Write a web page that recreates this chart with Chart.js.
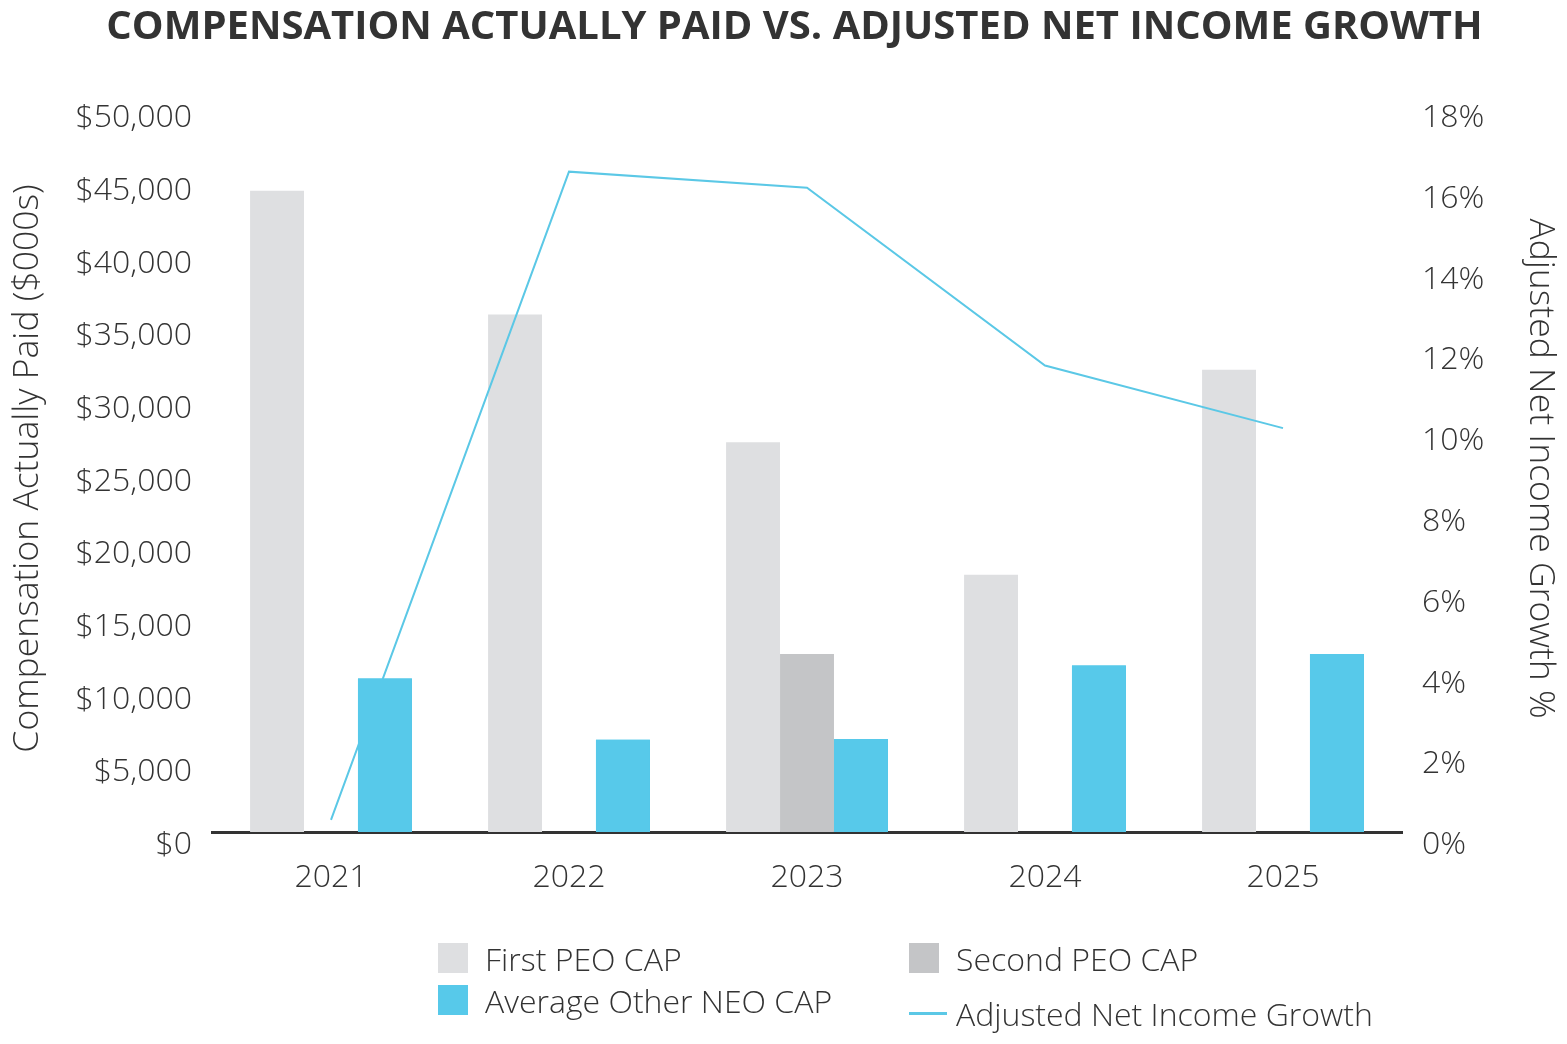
<!DOCTYPE html>
<html>
<head>
<meta charset="utf-8">
<script src="https://cdn.jsdelivr.net/npm/chart.js@4.4.1/dist/chart.umd.min.js"></script>
<style>
  html, body { margin: 0; padding: 0; background: #ffffff; }
  #wrap { position: relative; width: 1567px; height: 1044px; }
  #legend { position: absolute; left: 0; top: 0; width: 1567px; height: 1044px; pointer-events: none;
            font-family: "Open Sans", "DejaVu Sans", sans-serif; font-weight: 300; font-size: 32px; color: #333; }
  .item { position: absolute; display: flex; align-items: center; white-space: nowrap; }
  .sw { display: inline-block; margin-right: 17px; }
</style>
</head>
<body>
<div id="wrap">
  <canvas id="c" width="1567" height="1044"></canvas>
  <div id="legend"></div>
</div>
<script>
const titleText = "COMPENSATION ACTUALLY PAID VS. ADJUSTED NET INCOME GROWTH";
const years = ["2021", "2022", "2023", "2024", "2025"];
const firstPeoCap = [44100, 35600, 26800, 17700, 31800];
const secondPeoCap = [null, null, 12250, null, null];
const avgOtherNeoCap = [10550, 6350, 6400, 11450, 12250];
const adjNetIncomeGrowth = [0.3, 16.35, 15.95, 11.55, 10.0];
const leftTicks = { min: 0, max: 50000, step: 5000 };
const rightTicks = { min: 0, max: 18, step: 2 };
const seriesNames = ["First PEO CAP", "Second PEO CAP", "Average Other NEO CAP", "Adjusted Net Income Growth"];
const seriesColors = ["#DEDFE1", "#C4C5C7", "#57C9EA", "#5BC8E6"];

const FONT = "'Open Sans', 'DejaVu Sans', sans-serif";
const TXT = "#333333";

// redraw the NEO bars on top of the line (line sits above grey bars but below blue ones)
const neoOnTop = {
  id: 'neoOnTop',
  afterDatasetsDraw(chart) {
    const meta = chart.getDatasetMeta(2);
    const ctx = chart.ctx;
    ctx.save();
    meta.data.forEach(el => el.draw(ctx));
    ctx.restore();
  }
};

const chart = new Chart(document.getElementById('c'), {
  data: {
    labels: years,
    datasets: [
      { type: 'bar', label: seriesNames[0], data: firstPeoCap, backgroundColor: seriesColors[0], yAxisID: 'y', order: 0 },
      { type: 'bar', label: seriesNames[1], data: secondPeoCap, backgroundColor: seriesColors[1], yAxisID: 'y', order: 0 },
      { type: 'bar', label: seriesNames[2], data: avgOtherNeoCap, backgroundColor: seriesColors[2], yAxisID: 'y', order: 0 },
      { type: 'line', label: seriesNames[3], data: adjNetIncomeGrowth, borderColor: seriesColors[3], borderWidth: 2,
        pointRadius: 0, tension: 0, fill: false, yAxisID: 'y1', order: -1 }
    ]
  },
  options: {
    responsive: false,
    animation: false,
    devicePixelRatio: 1,
    layout: { padding: { left: 22, right: 0, top: 0, bottom: 0 } },
    datasets: { bar: { categoryPercentage: 0.68, barPercentage: 1.0 } },
    plugins: {
      legend: { display: false },
      tooltip: { enabled: false },
      title: {
        display: true, text: titleText, color: "#333333",
        font: { family: FONT, size: 40, weight: 'bold', lineHeight: 1.2 },
        padding: { top: 4, bottom: 53 }
      }
    },
    scales: {
      x: {
        type: 'category',
        grid: { display: false },
        border: { display: true, color: '#333333', width: 3 },
        ticks: { color: TXT, font: { family: FONT, size: 32, weight: 300 }, padding: 19, maxRotation: 0 },
        afterFit(s) { s.height = 212; }
      },
      y: {
        position: 'left',
        min: leftTicks.min, max: leftTicks.max,
        grid: { display: false, drawTicks: false },
        border: { display: false },
        ticks: { stepSize: leftTicks.step, color: TXT, padding: 20, labelOffset: 13,
                 font: { family: FONT, size: 32, weight: 300 },
                 callback: v => '$' + Number(v).toLocaleString('en-US') },
        title: { display: true, text: 'Compensation Actually Paid ($000s)', color: TXT,
                 font: { family: FONT, size: 35.5, weight: 300, lineHeight: 1.2 }, padding: { top: -15, bottom: 0 } },
        afterFit(s) { s.width = 190; }
      },
      y1: {
        position: 'right',
        min: rightTicks.min, max: rightTicks.max,
        grid: { display: false, drawTicks: false },
        border: { display: false },
        ticks: { stepSize: rightTicks.step, color: TXT, padding: 20, labelOffset: 13,
                 font: { family: FONT, size: 32, weight: 300 },
                 callback: v => v + '%' },
        title: { display: true, text: 'Adjusted Net Income Growth %', color: TXT,
                 font: { family: FONT, size: 35.5, weight: 300, lineHeight: 1.2 }, padding: { top: 6, bottom: 0 } },
        afterFit(s) { s.width = 165; }
      }
    }
  },
  plugins: [neoOnTop]
});

// HTML legend built from the chart's datasets
(function buildLegend() {
  const pos = [
    { left: 438, cy: 958 },
    { left: 909, cy: 958 },
    { left: 438, cy: 1000 },
    { left: 909, cy: 1013 }
  ];
  const lg = document.getElementById('legend');
  chart.data.datasets.forEach((ds, i) => {
    const it = document.createElement('div');
    it.className = 'item';
    it.style.left = pos[i].left + 'px';
    it.style.top = (pos[i].cy - 22) + 'px';
    it.style.height = '44px';
    const sw = document.createElement('span');
    sw.className = 'sw';
    if (ds.type === 'line') {
      sw.style.width = '38px'; sw.style.height = '3px'; sw.style.background = ds.borderColor;
      sw.style.marginRight = '9px';
    } else {
      sw.style.width = '30px'; sw.style.height = '30px'; sw.style.background = ds.backgroundColor;
    }
    const tx = document.createElement('span');
    tx.textContent = ds.label;
    it.appendChild(sw); it.appendChild(tx);
    lg.appendChild(it);
  });
})();
</script>
</body>
</html>
